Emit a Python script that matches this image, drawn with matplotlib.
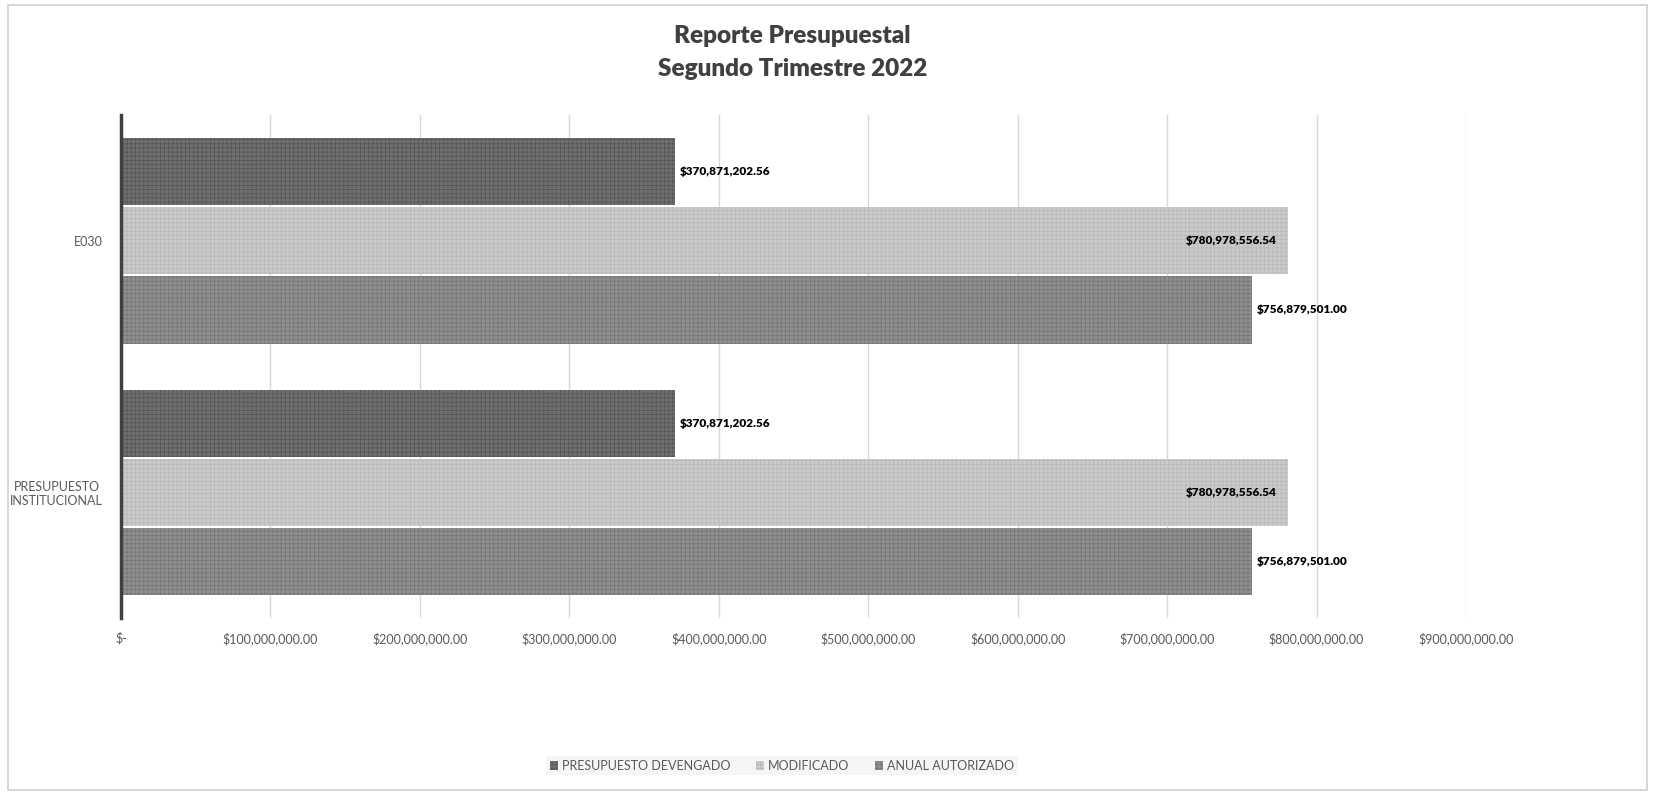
import numpy as np
import matplotlib
matplotlib.use("Agg")
from matplotlib import pyplot as plt
from matplotlib.patches import Rectangle, Patch

plt.rcParams['font.family'] = ['Lato', 'DejaVu Sans']
plt.rcParams['hatch.linewidth'] = 0.6

###
categories = ["PRESUPUESTO\nINSTITUCIONAL", "E030"]
series = ["PRESUPUESTO DEVENGADO", "MODIFICADO", "ANUAL AUTORIZADO"]
devengado = [370871202.56, 370871202.56]
modificado = [780978556.54, 780978556.54]
anual = [756879501.00, 756879501.00]
xticks = [0, 100e6, 200e6, 300e6, 400e6, 500e6, 600e6, 700e6, 800e6, 900e6]

fills = ["#707070", "#cbcbcb", "#8f8f8f"]
hatchc = ["#575757", "#b9b9b9", "#777777"]

fig = plt.figure(figsize=(16.55, 7.95), dpi=100)
fig.patches.append(Rectangle((0.005, 0.006), 0.99, 0.988, transform=fig.transFigure,
                             fill=False, edgecolor="#d0d0d0", lw=1.2))
ax = fig.add_axes([0.0731, 0.2226, 0.8127, 0.6327])

y = np.arange(len(categories))
h = 0.275
offs = [h, 0, -h]
vals = [devengado, modificado, anual]
for i, (v, off) in enumerate(zip(vals, offs)):
  ax.barh(y + off, v, height=h - 0.008, color=fills[i], edgecolor="none", zorder=2)
  ax.barh(y + off, v, height=h - 0.008, color="none", edgecolor=hatchc[i], hatch="++++", lw=0, zorder=3)
  for yy, vv in zip(y + off, v):
    txt = "${:,.2f}".format(vv)
    if i == 1:
      ax.text(vv - 0.008e9, yy, txt, ha="right", va="center", fontsize=8.5, fontweight="heavy", color="black", zorder=4)
    else:
      ax.text(vv + 0.003e9, yy, txt, ha="left", va="center", fontsize=8.5, fontweight="heavy", color="black", zorder=4)

ax.set_xlim(0, 900e6)
ax.set_ylim(-0.5, 1.5)
ax.set_xticks(xticks)
ax.set_xticklabels(["$-"] + ["${:,.2f}".format(t) for t in xticks[1:]], fontsize=9, color="#595959")
ax.set_yticks(y)
ax.set_yticklabels(categories, fontsize=9, color="#595959", ha="right", multialignment="center")
ax.tick_params(axis="y", length=0, pad=13)
ax.tick_params(axis="x", length=0, pad=10)
ax.grid(axis="x", color="#d9d9d9", lw=1, zorder=0)
ax.set_axisbelow(True)
for s in ["top", "right", "bottom"]:
  ax.spines[s].set_visible(False)
ax.spines["left"].set_color("#404040")
ax.spines["left"].set_linewidth(2.5)
ax.spines["left"].set_zorder(5)

fig.text(0.479, 0.955, "Reporte Presupuestal", ha="center", va="center", fontsize=17.5, fontweight="heavy", color="#404040")
fig.text(0.479, 0.913, "Segundo Trimestre 2022", ha="center", va="center", fontsize=17.5, fontweight="heavy", color="#404040")

handles = [Patch(facecolor=fills[i], edgecolor=hatchc[i], hatch="++++", lw=0) for i in range(3)]
leg = fig.legend(handles, series, loc="center", bbox_to_anchor=(0.4725, 0.037), ncol=3, frameon=True,
                 fontsize=9, handlelength=0.7, handleheight=0.7, handletextpad=0.3, columnspacing=2.0,
                 borderpad=0.3, fancybox=False)
leg.get_frame().set_facecolor("#f4f4f4")
leg.get_frame().set_edgecolor("none")
for t in leg.get_texts():
  t.set_color("#595959")

plt.savefig("out.png", format="png", dpi=100)
